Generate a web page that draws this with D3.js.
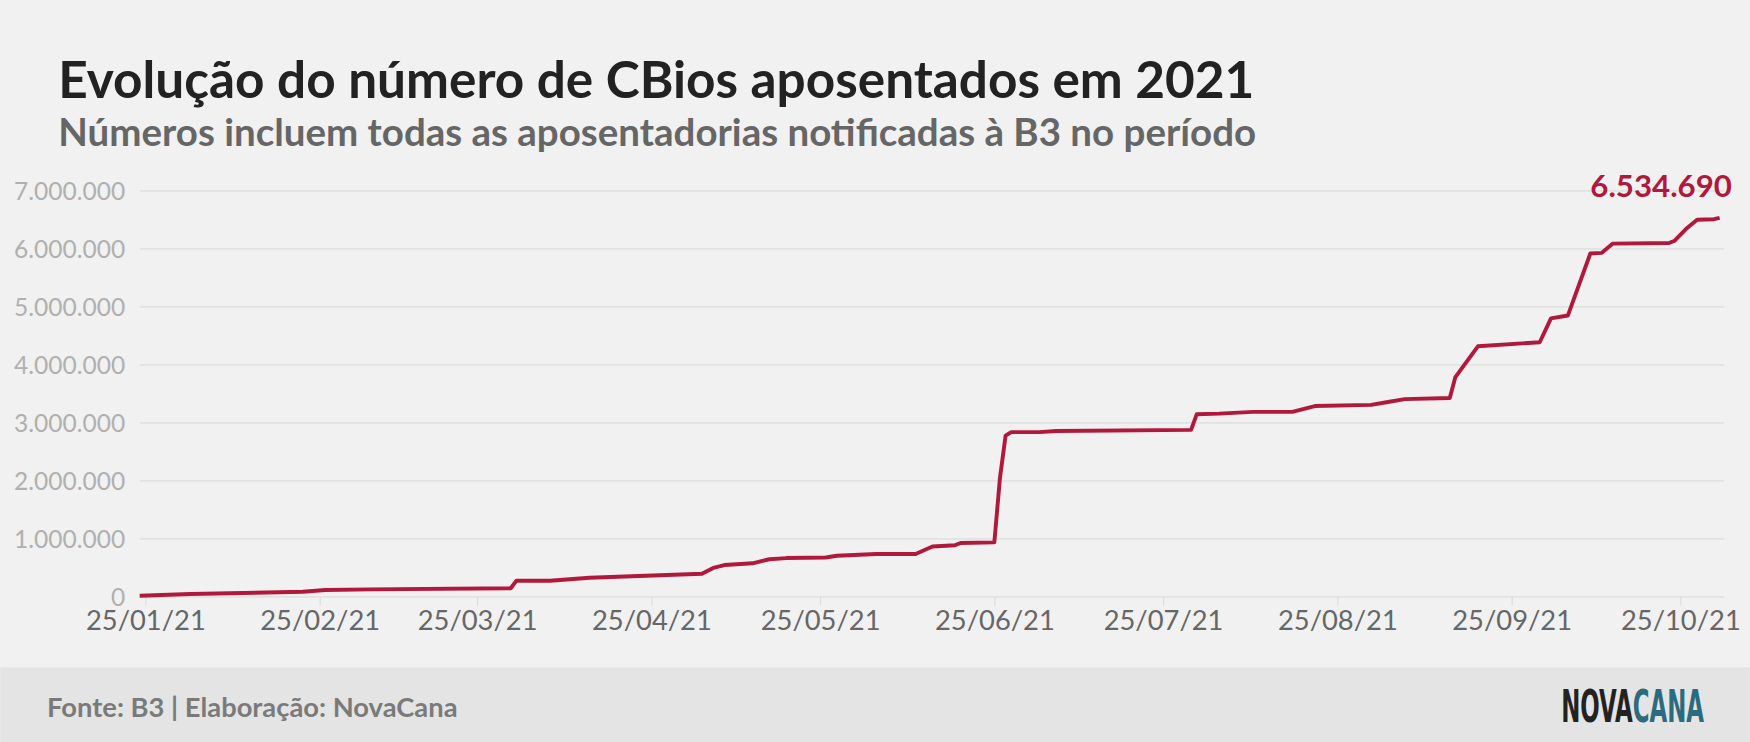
<!DOCTYPE html>
<html><head><meta charset="utf-8">
<script src="https://cdn.jsdelivr.net/npm/d3@7"></script>
<style>body{margin:0;background:#f1f1f1}svg{display:block}</style>
</head><body><svg id="chart" width="1750" height="742" viewBox="0 0 1568 665"></svg>
<script>
// datas e valores
const dates = ["2021-01-24","2021-02-02","2021-02-22","2021-02-26","2021-03-06","2021-03-31","2021-04-01","2021-04-07","2021-04-14","2021-05-04","2021-05-06","2021-05-08","2021-05-13","2021-05-16","2021-05-19","2021-05-26","2021-05-28","2021-06-04","2021-06-11","2021-06-14","2021-06-18","2021-06-19","2021-06-25","2021-06-26","2021-06-27","2021-06-28","2021-07-03","2021-07-06","2021-07-30","2021-07-31","2021-08-04","2021-08-10","2021-08-17","2021-08-21","2021-08-31","2021-09-03","2021-09-06","2021-09-14","2021-09-15","2021-09-19","2021-09-30","2021-10-02","2021-10-05","2021-10-09","2021-10-11","2021-10-13","2021-10-23","2021-10-24","2021-10-26","2021-10-28","2021-10-31","2021-11-01"];
const values = [20000,50000,90000,120000,130000,150000,280000,280000,330000,400000,500000,550000,580000,650000,670000,680000,710000,740000,740000,870000,890000,930000,940000,2050000,2780000,2840000,2840000,2860000,2880000,3150000,3160000,3190000,3190000,3290000,3310000,3360000,3410000,3430000,3790000,4320000,4390000,4800000,4850000,5920000,5930000,6090000,6100000,6140000,6340000,6500000,6510000,6534690];
const yTicks = [0,1000000,2000000,3000000,4000000,5000000,6000000,7000000];
const xTicks = ["2021-01-25","2021-02-25","2021-03-25","2021-04-25","2021-05-25","2021-06-25","2021-07-25","2021-08-25","2021-09-25","2021-10-25"];

const parse = d3.timeParse("%Y-%m-%d");
const data = dates.map((d, i) => ({date: parse(d), value: values[i]}));
const br = d3.formatLocale({decimal: ",", thousands: ".", grouping: [3], currency: ["R$", ""]});
const fmt = br.format(",");
const font = "Lato, 'Open Sans', sans-serif";

let svg = d3.select('#chart');
svg.append('rect').attr('width', 1568).attr('height', 665).attr('fill', '#f1f1f1');
svg.append('rect').attr('y', 598).attr('width', 1568).attr('height', 67).attr('fill', '#e4e4e4');

svg.append('text').attr('x', 52).attr('y', 88).attr('font-family', font).attr('font-weight', 700)
    .attr('font-size', 46).attr('fill', '#222').text('Evolução do número de CBios aposentados em 2021');
svg.append('text').attr('x', 52).attr('y', 131).attr('font-family', font).attr('font-weight', 700)
    .attr('font-size', 34.5).attr('fill', '#666').text('Números incluem todas as aposentadorias notificadas à B3 no período');

let x = d3.scaleTime().domain([parse("2021-01-24"), parse("2021-11-01")]).range([125, 1541]);
let y = d3.scaleLinear().domain([0, 7000000]).range([535, 171]);

// grade
svg.append('g').selectAll('line').data(yTicks).join('line')
    .attr('x1', 125).attr('x2', 1545).attr('y1', d => y(d)).attr('y2', d => y(d))
    .attr('stroke', '#dcdcdc').attr('stroke-width', 1.2);
svg.append('g').selectAll('text').data(yTicks).join('text')
    .attr('x', 112).attr('y', d => y(d) + 8).attr('text-anchor', 'end')
    .attr('font-family', font).attr('font-size', 22).attr('fill', '#b0b0b0').text(d => fmt(d));

// eixo x
let xa = svg.append('g').attr('transform', 'translate(0,535)')
    .call(d3.axisBottom(x).tickValues(xTicks.map(parse)).tickFormat(d3.timeFormat('%d/%m/%y')).tickSize(8).tickPadding(4));
xa.select('.domain').remove();
xa.selectAll('line').attr('stroke', '#dcdcdc');
xa.selectAll('text').attr('font-family', font).attr('font-size', 24.5).attr('fill', '#666');

let line = d3.line().x(d => x(d.date)).y(d => y(d.value));
svg.append('path').datum(data).attr('d', line).attr('fill', 'none')
    .attr('stroke', '#b0183c').attr('stroke-width', 3.5).attr('stroke-linejoin', 'round');

let last = data[data.length - 1];
svg.append('text').attr('x', x(last.date) + 11).attr('y', y(last.value) - 19).attr('text-anchor', 'end')
    .attr('font-family', font).attr('font-weight', 700).attr('font-size', 28).attr('fill', '#b0183c')
    .text(fmt(last.value));

// rodapé
svg.append('text').attr('x', 42).attr('y', 643).attr('font-family', font).attr('font-weight', 700)
    .attr('font-size', 24.5).attr('fill', '#7a7a7a').text('Fonte: B3 | Elaboração: NovaCana');
let logo = svg.append('text').attr('x', 1527).attr('y', 647).attr('text-anchor', 'end')
    .attr('font-family', "'Liberation Sans Narrow', 'DejaVu Sans Condensed', sans-serif")
    .attr('font-weight', 700).attr('font-size', 40).attr('textLength', 128).attr('lengthAdjust', 'spacingAndGlyphs');
logo.append('tspan').attr('fill', '#222').text('NOVA');
logo.append('tspan').attr('fill', '#2b6b80').text('CANA');
</script></body></html>
